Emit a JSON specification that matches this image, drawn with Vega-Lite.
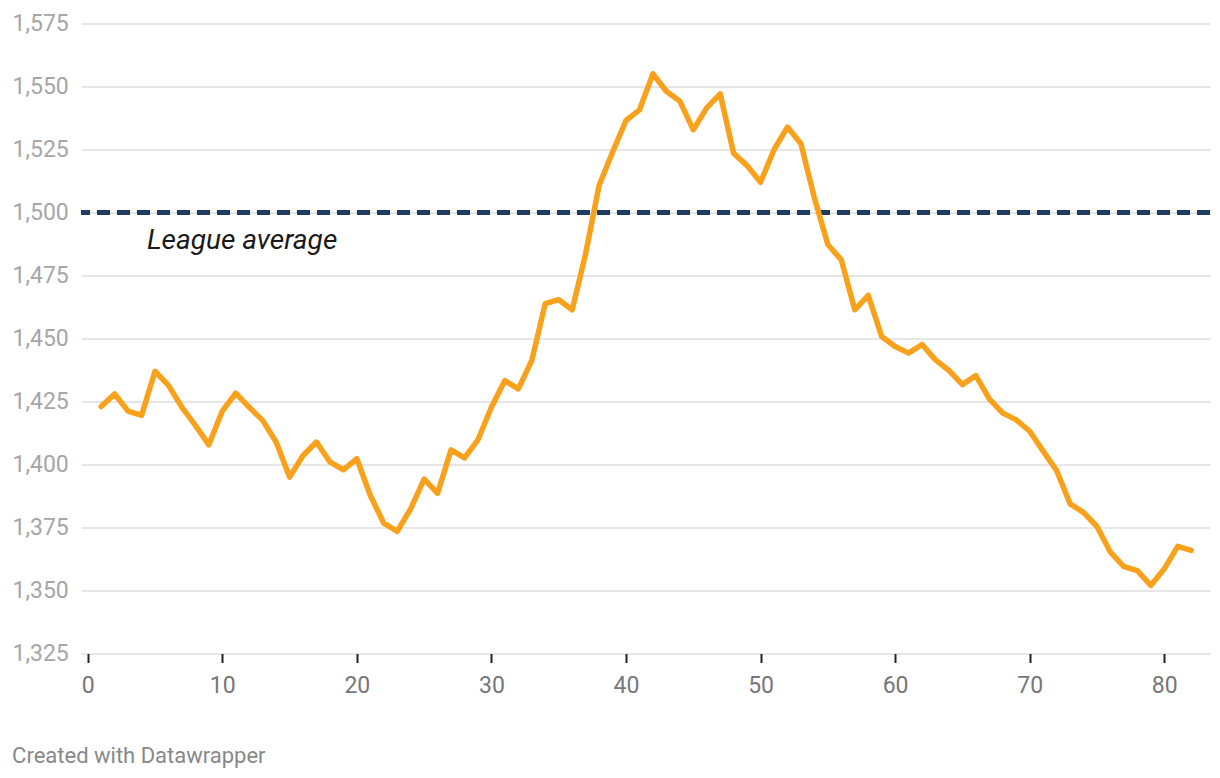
{
  "$schema": "https://vega.github.io/schema/vega-lite/v6.json",
  "width": 1129,
  "height": 630,
  "autosize": "none",
  "padding": {"left": 81, "top": 23.5, "right": 10, "bottom": 124.5},
  "background": "white",
  "config": {"view": {"stroke": null}, "font": "Roboto"},
  "title": {
    "text": "Created with Datawrapper",
    "orient": "bottom",
    "anchor": "start",
    "frame": "bounds",
    "fontSize": 22,
    "fontWeight": "normal",
    "font": "Roboto",
    "color": "#888888",
    "offset": 48
  },
  "datasets": {
    "elo": [
      {"game": 1, "rating": 1423}, {"game": 2, "rating": 1428}, {"game": 3, "rating": 1421.2},
      {"game": 4, "rating": 1419.5}, {"game": 5, "rating": 1437}, {"game": 6, "rating": 1431.4},
      {"game": 7, "rating": 1422.7}, {"game": 8, "rating": 1415.5}, {"game": 9, "rating": 1407.8},
      {"game": 10, "rating": 1421.2}, {"game": 11, "rating": 1428.3}, {"game": 12, "rating": 1422.7},
      {"game": 13, "rating": 1417.5}, {"game": 14, "rating": 1408.9}, {"game": 15, "rating": 1395},
      {"game": 16, "rating": 1403.6}, {"game": 17, "rating": 1408.9}, {"game": 18, "rating": 1401},
      {"game": 19, "rating": 1397.9}, {"game": 20, "rating": 1402.3}, {"game": 21, "rating": 1387.7},
      {"game": 22, "rating": 1376.7}, {"game": 23, "rating": 1373.5}, {"game": 24, "rating": 1382.4},
      {"game": 25, "rating": 1394.2}, {"game": 26, "rating": 1388.6}, {"game": 27, "rating": 1405.8},
      {"game": 28, "rating": 1402.6}, {"game": 29, "rating": 1409.8}, {"game": 30, "rating": 1422.7},
      {"game": 31, "rating": 1433.3}, {"game": 32, "rating": 1430}, {"game": 33, "rating": 1441.3},
      {"game": 34, "rating": 1463.8}, {"game": 35, "rating": 1465.4}, {"game": 36, "rating": 1461.4},
      {"game": 37, "rating": 1483.6}, {"game": 38, "rating": 1510.7}, {"game": 39, "rating": 1523.9},
      {"game": 40, "rating": 1536.5}, {"game": 41, "rating": 1540.7}, {"game": 42, "rating": 1555},
      {"game": 43, "rating": 1548.1}, {"game": 44, "rating": 1544.2}, {"game": 45, "rating": 1532.8},
      {"game": 46, "rating": 1541.5}, {"game": 47, "rating": 1547.1}, {"game": 48, "rating": 1523.5},
      {"game": 49, "rating": 1518.6}, {"game": 50, "rating": 1512}, {"game": 51, "rating": 1524.9},
      {"game": 52, "rating": 1533.9}, {"game": 53, "rating": 1527.3}, {"game": 54, "rating": 1505.8},
      {"game": 55, "rating": 1487.3}, {"game": 56, "rating": 1481.2}, {"game": 57, "rating": 1461.4},
      {"game": 58, "rating": 1467.1}, {"game": 59, "rating": 1450.8}, {"game": 60, "rating": 1446.8},
      {"game": 61, "rating": 1444.2}, {"game": 62, "rating": 1447.6}, {"game": 63, "rating": 1441.5},
      {"game": 64, "rating": 1437.3}, {"game": 65, "rating": 1431.7}, {"game": 66, "rating": 1435.3},
      {"game": 67, "rating": 1426}, {"game": 68, "rating": 1420.4}, {"game": 69, "rating": 1417.7},
      {"game": 70, "rating": 1413.2}, {"game": 71, "rating": 1405.3}, {"game": 72, "rating": 1397.6},
      {"game": 73, "rating": 1384.4}, {"game": 74, "rating": 1381}, {"game": 75, "rating": 1375.4},
      {"game": 76, "rating": 1365.2}, {"game": 77, "rating": 1359.5}, {"game": 78, "rating": 1357.9},
      {"game": 79, "rating": 1352}, {"game": 80, "rating": 1358.6}, {"game": 81, "rating": 1367.5},
      {"game": 82, "rating": 1365.9}
    ],
    "ann": [{"game": 4.4, "rating": 1500, "label": "League average"}]
  },
  "layer": [
    {
      "data": {"name": "elo"},
      "mark": {"type": "rule", "color": "#1d3d63", "strokeWidth": 3.5, "strokeDash": [13, 7]},
      "encoding": {"y": {"datum": 1500, "type": "quantitative"}}
    },
    {
      "data": {"name": "ann"},
      "mark": {"type": "text", "align": "left", "baseline": "alphabetic", "dy": 36, "fontSize": 28, "fontStyle": "italic", "font": "Roboto", "color": "#1a1a1a"},
      "encoding": {
        "x": {"field": "game", "type": "quantitative"},
        "y": {"field": "rating", "type": "quantitative"},
        "text": {"field": "label"}
      }
    },
    {
      "data": {"name": "elo"},
      "mark": {"type": "line", "color": "#f9a11b", "strokeWidth": 5.5, "strokeCap": "round", "strokeJoin": "round"},
      "encoding": {
        "x": {
          "field": "game",
          "type": "quantitative",
          "scale": {"domain": [-0.5, 83.4], "nice": false, "zero": false},
          "axis": {
            "title": null,
            "values": [0, 10, 20, 30, 40, 50, 60, 70, 80],
            "format": "d",
            "grid": false,
            "domain": false,
            "ticks": true,
            "tickColor": "#222222",
            "tickWidth": 2,
            "tickSize": 9,
            "labelFontSize": 23,
            "labelFont": "Roboto",
            "labelColor": "#777777",
            "labelPadding": 12
          }
        },
        "y": {
          "field": "rating",
          "type": "quantitative",
          "scale": {"domain": [1325, 1575], "nice": false, "zero": false},
          "axis": {
            "title": null,
            "values": [1325, 1350, 1375, 1400, 1425, 1450, 1475, 1500, 1525, 1550, 1575],
            "format": ",.0f",
            "grid": true,
            "gridColor": "#e6e6e6",
            "gridWidth": 2,
            "domain": false,
            "ticks": false,
            "labelFontSize": 23,
            "labelFont": "Roboto",
            "labelColor": "#a6a6a6",
            "labelPadding": 12.7,
            "labelBaseline": "middle"
          }
        }
      }
    }
  ]
}
